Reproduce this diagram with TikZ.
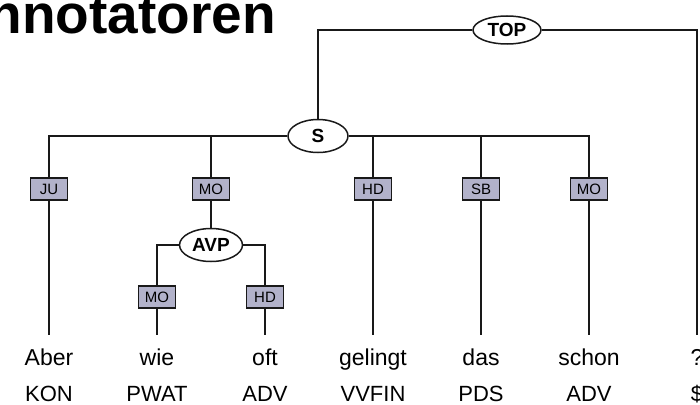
\documentclass[tikz,border=0pt]{standalone}
\usepackage{fontspec}
\setmainfont{Liberation Sans}
\usetikzlibrary{shapes.geometric}
\definecolor{boxfill}{RGB}{178,178,202}
\definecolor{edgecol}{RGB}{25,25,25}
\begin{document}
\begin{tikzpicture}[x=1pt,y=-1pt,
  cat/.style={ellipse,draw=edgecol,line width=1.5pt,fill=white,inner sep=0pt,font=\fontsize{19}{19}\selectfont\bfseries},
  lab/.style={rectangle,draw=edgecol,line width=1.4pt,fill=boxfill,minimum width=37pt,minimum height=22pt,inner sep=0pt,font=\fontsize{15}{15}\selectfont},
  word/.style={anchor=base,inner sep=0pt,font=\fontsize{23}{23}\selectfont},
  tag/.style={anchor=base,inner sep=0pt,font=\fontsize{22}{22}\selectfont},
  conn/.style={draw=edgecol,line width=1.8pt}]
\useasboundingbox (0,0) rectangle (700,404);
% title
\node[anchor=base east,inner sep=0pt,font=\fontsize{55}{55}\selectfont\bfseries] (title) at (276,34) {nnotatoren};
% leaf endpoints
\coordinate (e1) at (49,335);
\coordinate (e2) at (157,335);
\coordinate (e3) at (265,335);
\coordinate (e4) at (373,335);
\coordinate (e5) at (481,335);
\coordinate (e6) at (589,335);
\coordinate (e7) at (697,335);
% category nodes
\node[cat,minimum width=68pt,minimum height=28pt] (TOP) at (507,30) {TOP};
\node[cat,minimum width=60pt,minimum height=33pt] (S) at (318,136) {S};
\node[cat,minimum width=63pt,minimum height=33pt] (AVP) at (211,245) {AVP};
% edge labels
\node[lab] (JU) at (49,189) {JU};
\node[lab] (MOa) at (211,189) {MO};
\node[lab] (HD) at (373,189) {HD};
\node[lab] (SB) at (481,189) {SB};
\node[lab] (MOb) at (589,189) {MO};
\node[lab] (MOc) at (157,297) {MO};
\node[lab] (HDc) at (265,297) {HD};
% words
\node[word] (w1) at (49,365) {Aber};
\node[word] (w2) at (157,365) {wie};
\node[word] (w3) at (265,365) {oft};
\node[word] (w4) at (373,365) {gelingt};
\node[word] (w5) at (481,365) {das};
\node[word] (w6) at (589,365) {schon};
\node[word] (w7) at (697,365) {?};
\node[tag] (t1) at (49,401) {KON};
\node[tag] (t2) at (157,401) {PWAT};
\node[tag] (t3) at (265,401) {ADV};
\node[tag] (t4) at (373,401) {VVFIN};
\node[tag] (t5) at (481,401) {PDS};
\node[tag] (t6) at (589,401) {ADV};
\node[tag] (t7) at (697,401) {\$};
% connectors
\path[conn] (TOP.west) -| (S.north);
\path[conn] (TOP.east) -| (e7);
\path[conn] (S.west) -| (JU.north);
\path[conn] (MOa.north) -- (MOa.north |- S.west);
\path[conn] (S.east) -| (MOb.north);
\path[conn] (HD.north) -- (HD.north |- S.east);
\path[conn] (SB.north) -- (SB.north |- S.east);
\path[conn] (JU.south) -- (e1);
\path[conn] (MOa.south) -- (AVP.north);
\path[conn] (HD.south) -- (e4);
\path[conn] (SB.south) -- (e5);
\path[conn] (MOb.south) -- (e6);
\path[conn] (AVP.west) -| (MOc.north);
\path[conn] (AVP.east) -| (HDc.north);
\path[conn] (MOc.south) -- (e2);
\path[conn] (HDc.south) -- (e3);
\end{tikzpicture}
\end{document}
